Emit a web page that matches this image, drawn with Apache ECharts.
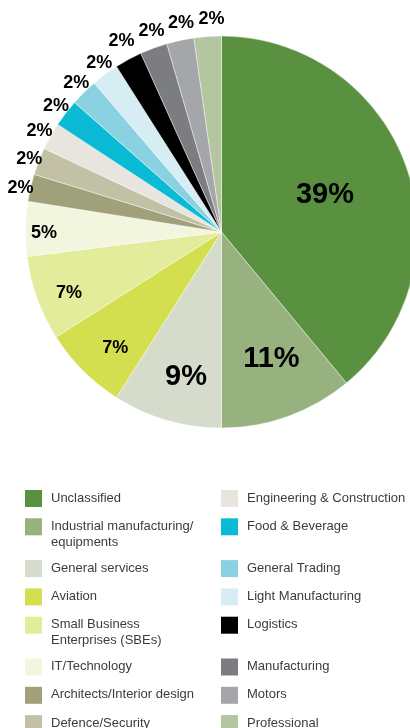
<!DOCTYPE html>
<html>
<head>
<meta charset="utf-8">
<script src="https://cdn.jsdelivr.net/npm/echarts@6/dist/echarts.min.js"></script>
<style>
  html, body { margin: 0; padding: 0; background: #ffffff; }
  #chart { width: 410px; height: 728px; }
</style>
</head>
<body>
<div id="chart"></div>
<script>
// Sector breakdown (share of total, %)
const categories = [
  'Unclassified',
  'Industrial manufacturing/\nequipments',
  'General services',
  'Aviation',
  'Small Business\nEnterprises (SBEs)',
  'IT/Technology',
  'Architects/Interior design',
  'Defence/Security',
  'Engineering & Construction',
  'Food & Beverage',
  'General Trading',
  'Light Manufacturing',
  'Logistics',
  'Manufacturing',
  'Motors',
  'Professional'
];
const shares = [39, 11, 9, 7, 7, 4.5, 2.25, 2.25, 2.25, 2.25, 2.25, 2.25, 2.25, 2.25, 2.25, 2.25];
const colors = [
  '#5a9141', '#97b27e', '#d6dccb', '#d4df50', '#e3ec9b', '#f3f6de',
  '#a0a07b', '#c2c1a6', '#e8e5de', '#0bbbd6', '#8ad2e2', '#d6edf3',
  '#000000', '#7c7d81', '#a5a6aa', '#b4c6a0'
];

const FONT = '"Liberation Sans", Arial, Helvetica, sans-serif';
const CENTER = [221.5, 232];
const LABEL_CENTER = [227, 236];
const RADIUS = 196;

// Rings on which the percentage labels sit (centre, radius in px, font size, slice indices)
const labelRings = [
  { center: CENTER, radius: 107, fontSize: 29, members: [0] },
  { center: LABEL_CENTER, radius: 128, fontSize: 29, members: [1] },
  { center: LABEL_CENTER, radius: 144, fontSize: 29, members: [2] },
  { center: LABEL_CENTER, radius: 155, fontSize: 18, members: [3] },
  { center: LABEL_CENTER, radius: 165, fontSize: 18, members: [4] },
  { center: LABEL_CENTER, radius: 180, fontSize: 18, members: [5] },
  { center: LABEL_CENTER, radius: 209, fontSize: 18, members: [6, 7] },
  { center: LABEL_CENTER, radius: 212, fontSize: 18, members: [8, 9, 10, 11] },
  { center: LABEL_CENTER, radius: 219, fontSize: 18, members: [12] },
  { center: LABEL_CENTER, radius: 215, fontSize: 18, members: [13, 14, 15] }
];

const pieData = categories.map((name, i) => ({
  name: name,
  value: shares[i],
  itemStyle: { color: colors[i] }
}));

const mainPie = {
  type: 'pie',
  name: 'sectors',
  center: CENTER,
  radius: [0, RADIUS],
  startAngle: 90,
  clockwise: true,
  avoidLabelOverlap: false,
  label: { show: false },
  labelLine: { show: false },
  emphasis: { disabled: true },
  itemStyle: { borderColor: 'rgba(255,255,255,0.7)', borderWidth: 0.6 },
  data: pieData
};

// Transparent pies carrying only the labels, one per label ring
const labelPies = labelRings.map((ring, k) => ({
  type: 'pie',
  name: 'labels-' + k,
  silent: true,
  center: ring.center,
  radius: [ring.radius - 1, ring.radius + 1],
  startAngle: 90,
  clockwise: true,
  avoidLabelOverlap: false,
  emphasis: { disabled: true },
  itemStyle: { color: 'rgba(0,0,0,0)', borderWidth: 0 },
  labelLine: { show: false },
  labelLayout: { hideOverlap: false },
  label: {
    show: true,
    position: 'inside',
    color: '#000000',
    fontFamily: FONT,
    fontWeight: 'bold',
    fontSize: ring.fontSize,
    formatter: p => ring.members.indexOf(p.dataIndex) >= 0 ? Math.round(p.value) + '%' : ''
  },
  data: categories.map((name, i) => ({ name: name, value: shares[i] }))
}));

// Legend: two columns, left = first half, right = second half
const half = categories.length / 2;
const legendOrder = [];
for (let i = 0; i < half; i++) {
  legendOrder.push(categories[i], categories[i + half]);
}

const chart = echarts.init(document.getElementById('chart'), null, { renderer: 'canvas' });
chart.setOption({
  animation: false,
  backgroundColor: '#ffffff',
  legend: {
    orient: 'horizontal',
    left: 25,
    top: 490,
    width: 385,
    padding: 0,
    itemGap: 11.3,
    itemWidth: 17,
    itemHeight: 17,
    icon: 'rect',
    selectedMode: false,
    itemStyle: { borderWidth: 0 },
    data: legendOrder,
    formatter: name => '{t|' + name + '}',
    textStyle: {
      width: 158.7,
      height: 17,
      padding: [0, 0, 0, 4],
      backgroundColor: 'rgba(255,255,255,0)',
      rich: {
        t: { fontFamily: FONT, fontSize: 13, lineHeight: 16, color: '#3c3c3c' }
      }
    }
  },
  series: [mainPie].concat(labelPies)
});
</script>
</body>
</html>
